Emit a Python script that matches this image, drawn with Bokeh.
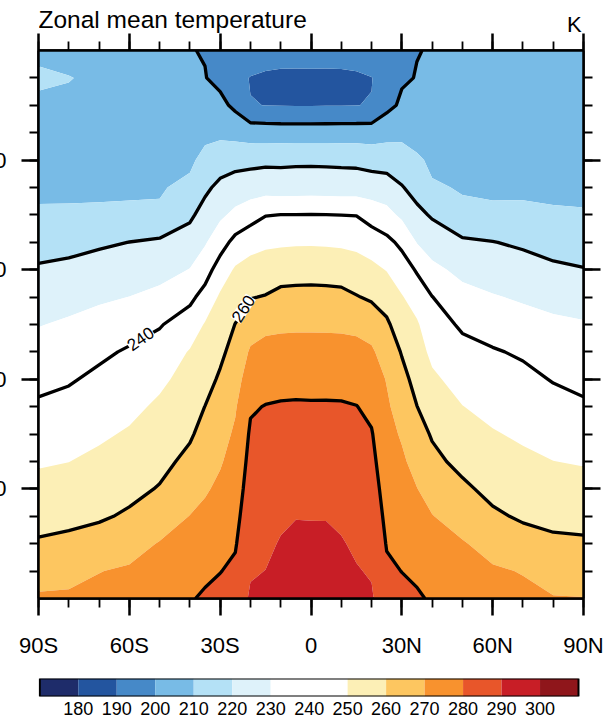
import numpy as np
from bokeh.plotting import figure
from bokeh.models import Range1d, LinearAxis, FixedTicker, Label
from bokeh.layouts import column
from bokeh.embed import file_html
from bokeh.resources import INLINE

# ---- data: zonal-mean temperature (K), latitude x pressure (hPa) ----
lats = [-90, -80, -70, -60, -50, -40, -35, -30, -25, -20, -15, -10, -5, 0,
        5, 10, 15, 20, 25, 30, 35, 40, 50, 60, 70, 80, 90]
plev = [0, 50, 100, 150, 200, 250, 300, 350, 400, 450, 500,
        550, 600, 650, 700, 750, 800, 850, 900, 950, 1000]

# one vertical profile per latitude, top (0 hPa) to surface (1000 hPa)
t_90s = [208.0, 211.5, 208.3, 208.5, 208.8, 209.1, 210.6, 216.4, 221.1, 225.3, 229.6, 233.5, 237.5, 241.4, 245.2, 249.0, 252.8, 256.8, 261.0, 266.9, 271.0]
t_80s = [207.0, 210.3, 208.5, 208.6, 208.9, 209.3, 210.5, 217.2, 222.1, 226.8, 231.3, 235.2, 239.1, 242.8, 246.4, 249.9, 253.8, 257.6, 262.2, 268.0, 271.0]
t_70s = [206.5, 208.5, 208.0, 208.3, 208.8, 209.3, 210.6, 218.7, 223.7, 228.6, 233.4, 238.2, 242.0, 245.3, 248.6, 252.0, 255.4, 258.8, 264.2, 269.8, 272.0]
t_60s = [205.5, 207.0, 207.5, 208.0, 208.5, 209.2, 210.9, 220.1, 225.1, 230.1, 236.1, 241.1, 244.4, 247.7, 251.0, 254.3, 257.5, 261.3, 266.9, 271.0, 273.0]
t_50s = [204.0, 205.5, 206.5, 207.5, 208.3, 209.3, 211.0, 221.6, 226.7, 232.5, 239.3, 243.8, 248.1, 251.6, 254.5, 257.4, 260.6, 265.6, 270.5, 272.5, 274.5]
t_40s = [200.3, 203.5, 205.5, 207.0, 208.3, 212.0, 218.3, 224.3, 230.3, 237.8, 244.8, 250.7, 253.4, 256.1, 258.9, 262.3, 266.3, 270.2, 274.5, 277.0, 279.3]
t_35s = [199.6, 200.3, 204.0, 207.6, 212.8, 218.1, 223.6, 229.1, 235.9, 243.5, 250.7, 253.8, 256.9, 260.1, 263.0, 266.0, 269.0, 272.1, 275.1, 278.2, 281.2]
t_30s = [199.2, 197.5, 202.5, 208.0, 215.2, 222.4, 228.3, 235.8, 244.5, 251.4, 254.8, 258.2, 261.2, 263.9, 266.5, 269.2, 271.8, 274.5, 277.2, 279.8, 282.3]
t_25s = [198.5, 193.5, 198.0, 206.8, 216.7, 224.6, 232.3, 243.0, 251.2, 255.8, 260.2, 263.2, 266.1, 269.1, 271.4, 273.3, 275.3, 277.3, 279.3, 281.5, 284.5]
t_20s = [198.0, 189.5, 190.3, 205.5, 217.3, 225.4, 235.9, 246.6, 253.6, 259.6, 265.7, 271.2, 275.2, 279.1, 281.2, 282.8, 284.3, 285.9, 287.4, 289.2, 291.2]
t_15s = [197.5, 187.5, 189.9, 205.2, 218.0, 225.8, 239.6, 248.3, 254.5, 260.5, 268.0, 272.8, 276.6, 280.3, 281.9, 283.6, 285.2, 286.8, 288.4, 290.1, 291.8]
t_10s = [197.0, 186.5, 189.7, 205.0, 218.0, 225.3, 240.1, 248.6, 255.9, 262.5, 268.5, 273.1, 277.4, 280.7, 282.7, 284.7, 286.7, 288.6, 290.6, 292.5, 294.5]
t_5s  = [197.0, 186.3, 189.6, 205.0, 218.3, 225.4, 240.2, 248.9, 256.3, 262.8, 268.7, 273.2, 277.4, 280.9, 283.2, 285.4, 287.5, 289.7, 292.0, 294.1, 296.2]
t_eq  = [197.0, 186.5, 189.6, 205.0, 218.4, 225.5, 240.3, 249.0, 256.4, 262.9, 268.7, 273.2, 277.3, 280.8, 283.0, 285.2, 287.4, 289.6, 292.0, 294.0, 296.0]
t_5n  = [197.0, 186.4, 189.7, 205.0, 218.2, 225.4, 240.1, 248.8, 256.2, 262.7, 268.6, 273.2, 277.4, 280.8, 283.1, 285.3, 287.4, 289.6, 291.9, 294.0, 296.0]
t_10n = [197.0, 186.6, 189.8, 205.0, 218.0, 225.2, 239.9, 248.4, 255.8, 262.4, 268.5, 273.1, 277.4, 280.7, 282.7, 284.7, 286.7, 288.6, 290.6, 292.5, 294.4]
t_15n = [197.5, 187.6, 189.9, 205.1, 217.8, 225.2, 239.7, 247.6, 254.4, 260.5, 268.0, 272.7, 276.5, 280.2, 282.0, 283.7, 285.4, 287.1, 288.8, 290.5, 292.2]
t_20n = [198.0, 189.7, 190.3, 205.1, 216.5, 225.0, 235.9, 245.5, 252.4, 258.7, 265.8, 271.4, 274.7, 278.0, 280.6, 282.3, 284.0, 285.7, 287.4, 289.3, 291.0]
t_25n = [198.8, 194.5, 197.4, 206.7, 215.9, 224.4, 233.0, 242.5, 249.6, 256.0, 261.5, 265.5, 269.5, 271.4, 273.0, 274.6, 276.3, 277.9, 279.5, 281.3, 284.0]
t_30n = [199.3, 199.0, 201.5, 207.8, 214.1, 220.6, 228.2, 237.8, 244.8, 250.6, 255.0, 259.4, 262.7, 265.9, 269.0, 271.5, 273.6, 275.7, 277.8, 279.9, 282.0]
t_35n = [199.8, 200.3, 203.5, 206.5, 211.3, 216.5, 222.4, 229.6, 239.0, 245.8, 251.1, 254.1, 257.1, 260.1, 263.5, 266.8, 270.2, 273.0, 275.6, 278.4, 281.1]
t_40n = [200.4, 203.5, 205.5, 207.0, 208.5, 210.8, 219.0, 225.5, 232.4, 240.2, 244.0, 247.8, 251.7, 255.5, 259.2, 262.2, 266.7, 270.3, 273.2, 276.2, 279.0]
t_50n = [204.0, 205.5, 206.5, 207.5, 208.3, 209.5, 211.3, 221.8, 227.5, 233.1, 238.7, 242.7, 246.4, 250.2, 253.8, 257.6, 261.7, 266.2, 270.7, 272.7, 274.5]
t_60n = [205.5, 207.0, 207.5, 208.0, 208.5, 209.2, 210.9, 220.3, 225.5, 230.7, 236.0, 240.8, 244.1, 247.4, 250.7, 254.1, 257.5, 261.5, 267.0, 271.0, 273.0]
t_70n = [206.5, 208.3, 208.0, 208.3, 208.8, 209.4, 210.7, 218.5, 224.0, 228.8, 233.8, 238.8, 242.4, 245.5, 248.6, 251.9, 255.4, 258.8, 263.8, 269.6, 272.0]
t_80n = [207.0, 208.5, 208.3, 208.5, 208.8, 209.3, 210.4, 216.6, 221.6, 227.1, 231.8, 235.7, 239.5, 243.1, 246.6, 250.1, 253.8, 257.5, 261.8, 267.1, 270.4]
t_90n = [207.5, 208.5, 208.3, 208.5, 208.8, 209.2, 210.3, 215.8, 220.4, 225.8, 230.8, 234.2, 237.7, 241.3, 245.3, 249.3, 253.2, 257.1, 261.3, 266.3, 270.2]

profiles = [t_90s, t_80s, t_70s, t_60s, t_50s, t_40s, t_35s, t_30s, t_25s, t_20s,
            t_15s, t_10s, t_5s, t_eq, t_5n, t_10n, t_15n, t_20n, t_25n, t_30n,
            t_35n, t_40n, t_50n, t_60n, t_70n, t_80n, t_90n]

# shading intervals and colours (blue-white-orange-red)
fill_levels = [170, 180, 190, 200, 210, 220, 230, 240, 250, 260, 270, 280, 290, 300, 310]
palette = ["#1e2c6a", "#23559f", "#4689c8", "#78bbe6", "#b4e1f6", "#def2fa", "#ffffff",
           "#ffffff", "#fcefb6", "#fdc660", "#f8922e", "#e8562a", "#c81e26", "#8f161b"]
line_levels = [200, 220, 240, 260, 280]
bar_ticks = [180, 190, 200, 210, 220, 230, 240, 250, 260, 270, 280, 290, 300]

lat_ticks = [-90, -60, -30, 0, 30, 60, 90]
lat_names = ["90S", "60S", "30S", "0", "30N", "60N", "90N"]
p_ticks = [200, 400, 600, 800]

temp = np.array(profiles, dtype=float).T  # shape (levels, latitudes)

FONT = "Liberation Sans"
SHIFT = 50   # left panel partly off-page, so the pressure labels are cut at the edge
PAGE_W = 604 + SHIFT
BORDER_L = 38 + SHIFT   # all three stacked figures share these side borders
BORDER_R = 21
HEAD_H = 37
OVERLAP = 5             # main panel's (transparent) top border tucks under the header

# ---- header strip: title on the left, units on the right ----
head = figure(width=PAGE_W, height=HEAD_H, x_range=Range1d(-90, 90),
              y_range=Range1d(HEAD_H, 0),
              output_backend="svg", toolbar_location=None,
              min_border_left=BORDER_L, min_border_right=BORDER_R,
              min_border_top=0, min_border_bottom=0,
              x_axis_location=None, y_axis_location=None)
head.outline_line_color = None
head.grid.visible = False
head.add_layout(Label(x=-90, y=18.6, text="Zonal mean temperature", text_font=FONT,
                      text_font_size="24.5px", text_align="left", text_baseline="middle",
                      text_color="black"))
head.add_layout(Label(x=89.4, y=23.5, text="K", text_font=FONT, text_font_size="22px",
                      text_align="right", text_baseline="middle", text_color="black"))

# ---- main latitude-pressure panel ----
p = figure(width=PAGE_W, height=632,
           x_range=Range1d(-90, 90), y_range=Range1d(1000, 0),
           output_backend="svg", toolbar_location=None,
           min_border_left=BORDER_L, min_border_right=BORDER_R,
           min_border_top=18, min_border_bottom=66)
p.background_fill_color = "white"
p.border_fill_color = None
p.grid.visible = False
p.outline_line_color = "black"
p.outline_line_width = 2.5
p.styles = {"margin-top": f"-{OVERLAP}px"}

# filled bands, then the thick black contour lines every 20 K
p.contour(lats, plev, temp, levels=fill_levels, fill_color=palette)
p.contour(lats, plev, temp, levels=line_levels, line_color="black", line_width=3.3)


def style_axis(ax, ticks, show_labels):
    ax.axis_line_color = "black"
    ax.axis_line_width = 2.5
    ax.major_tick_in = 0
    ax.major_tick_out = 17
    ax.minor_tick_in = 0
    ax.minor_tick_out = 9
    ax.major_tick_line_width = 2.5
    ax.minor_tick_line_width = 1.8
    ax.major_tick_line_color = "black"
    ax.minor_tick_line_color = "black"
    ax.major_label_text_font = FONT
    ax.major_label_text_color = "black"
    if show_labels:
        ax.major_label_text_font_size = "22px"
    else:
        # tick marks only on the top and right edges
        ax.major_label_overrides = {t: "" for t in ticks}
        ax.major_label_text_font_size = "1px"
        ax.major_label_standoff = 0


x_ticker = FixedTicker(ticks=lat_ticks, minor_ticks=list(range(-90, 91, 10)))
y_ticker = FixedTicker(ticks=p_ticks, minor_ticks=list(range(50, 1000, 50)))

p.xaxis.ticker = x_ticker
style_axis(p.xaxis[0], lat_ticks, True)
p.xaxis.major_label_overrides = dict(zip(lat_ticks, lat_names))
p.xaxis.major_label_standoff = 17

p.yaxis.ticker = y_ticker
style_axis(p.yaxis[0], p_ticks, True)
p.yaxis.major_label_standoff = 15
p.yaxis.major_label_orientation = "horizontal"

top_axis = LinearAxis(ticker=x_ticker)
style_axis(top_axis, lat_ticks, False)
p.add_layout(top_axis, "above")

right_axis = LinearAxis(ticker=y_ticker)
style_axis(right_axis, p_ticks, False)
p.add_layout(right_axis, "right")

# inline contour labels
p.add_layout(Label(x=-56.3, y=526, text="240", angle=35, angle_units="deg",
                   text_font=FONT, text_font_size="17px", text_align="center",
                   text_baseline="middle", text_color="black",
                   background_fill_color="white"))
p.add_layout(Label(x=-22.4, y=471, text="260", angle=57, angle_units="deg",
                   text_font=FONT, text_font_size="17px", text_align="center",
                   text_baseline="middle", text_color="black",
                   background_fill_color="white"))

# ---- label bar (slightly inset from the panel edges) ----
bar_lo, bar_hi = fill_levels[0], fill_levels[-1]
unit = (bar_hi - bar_lo) / 538.7          # bar spans 538.7 px of the 545 px frame
cb = figure(width=PAGE_W, height=58,
            x_range=Range1d(bar_lo - 1.3 * unit, bar_hi + 5.0 * unit), y_range=Range1d(0, 1),
            output_backend="svg", toolbar_location=None, y_axis_location=None,
            min_border_left=BORDER_L, min_border_right=BORDER_R,
            min_border_top=14, min_border_bottom=26)
cb.grid.visible = False
cb.outline_line_color = None
cb.background_fill_color = None
cb.quad(left=fill_levels[:-1], right=fill_levels[1:], bottom=0, top=1,
        fill_color=palette, line_color=None)
cb.quad(left=[bar_lo], right=[bar_hi], bottom=0, top=1,
        fill_color=None, line_color="black", line_width=2)
cb.xaxis.ticker = FixedTicker(ticks=bar_ticks, minor_ticks=[])
cb.xaxis.axis_line_color = None
cb.xaxis.major_tick_out = 0
cb.xaxis.major_tick_in = 0
cb.xaxis.minor_tick_out = 0
cb.xaxis.major_label_standoff = 5
cb.xaxis.major_label_text_font = FONT
cb.xaxis.major_label_text_font_size = "18px"
cb.xaxis.major_label_text_color = "black"

layout = column(head, p, cb, spacing=0)
layout.styles = {"margin-left": f"-{SHIFT}px"}

open("out.html", "w").write(file_html(layout, INLINE))
